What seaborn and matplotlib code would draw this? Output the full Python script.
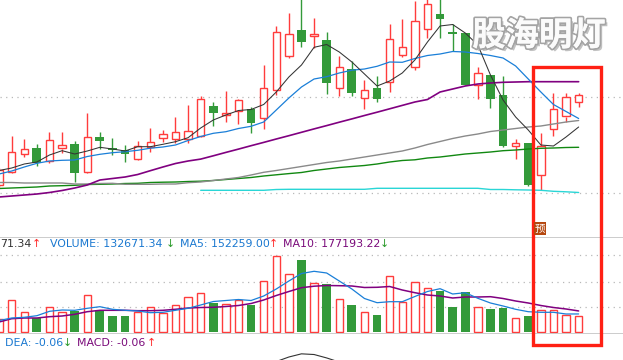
import numpy as np
import matplotlib
matplotlib.use("Agg")
import matplotlib.pyplot as plt
import matplotlib.patheffects as pe
from matplotlib.patches import Rectangle
import seaborn as sns

# ---------------- data ----------------
opens = [10.15, 10.285, 10.465, 10.52, 10.388, 10.515, 10.56, 10.285, 10.628, 10.52,
         10.497, 10.415, 10.53, 10.625, 10.613, 10.608, 10.64, 10.94, 10.85, 10.895,
         10.91, 10.817, 11.097, 11.437, 11.70, 11.637, 11.60, 11.125, 11.307, 11.017,
         11.12, 11.177, 11.447, 11.333, 11.707, 11.86, 11.67, 11.667, 11.148, 11.25,
         11.05, 10.54, 10.573, 10.25, 10.708, 10.835, 10.977]
highs = [10.32, 10.64, 10.607, 10.56, 10.68, 10.68, 10.59, 10.87, 10.678, 10.62,
         10.55, 10.59, 10.72, 10.70, 10.83, 10.95, 11.038, 10.98, 11.09, 11.008,
         10.928, 11.35, 11.74, 11.87, 12.05, 11.82, 11.677, 11.44, 11.387, 11.20,
         11.243, 11.76, 11.81, 11.99, 12.02, 12.04, 11.763, 11.675, 11.328, 11.25,
         11.238, 10.613, 10.573, 10.667, 11.07, 11.07, 11.075]
lows = [10.13, 10.27, 10.427, 10.343, 10.373, 10.47, 10.183, 10.267, 10.51, 10.455,
        10.382, 10.402, 10.48, 10.583, 10.567, 10.567, 10.633, 10.74, 10.78, 10.762,
        10.675, 10.707, 11.053, 11.417, 11.533, 11.517, 11.063, 11.04, 11.043, 10.913,
        10.983, 11.083, 11.43, 11.30, 11.623, 11.623, 11.49, 11.15, 11.015, 10.923,
        10.528, 10.413, 10.143, 10.103, 10.643, 10.783, 10.927]
closes = [10.30, 10.477, 10.507, 10.373, 10.597, 10.547, 10.273, 10.628, 10.593, 10.50,
          10.463, 10.538, 10.578, 10.657, 10.678, 10.688, 11.008, 10.873, 10.867, 11.00,
          10.765, 11.117, 11.677, 11.657, 11.583, 11.66, 11.173, 11.327, 11.073, 11.097,
          11.013, 11.607, 11.527, 11.787, 11.957, 11.813, 11.663, 11.152, 11.268, 11.013,
          10.54, 10.567, 10.153, 10.543, 10.91, 11.025, 11.055]

ma5 = [10.295, 10.32, 10.36, 10.38, 10.45, 10.493, 10.46, 10.49, 10.527, 10.51,
       10.49, 10.533, 10.533, 10.557, 10.583, 10.623, 10.72, 10.80, 10.85, 10.895,
       10.905, 10.955, 11.08, 11.23, 11.35, 11.527, 11.555, 11.48, 11.38, 11.26,
       11.14, 11.19, 11.27, 11.40, 11.58, 11.74, 11.755, 11.67, 11.55, 11.25,
       11.00, 10.83, 10.70, 10.55, 10.54, 10.63, 10.73]
ma10 = [10.26, 10.29, 10.33, 10.367, 10.39, 10.397, 10.40, 10.435, 10.457, 10.473,
        10.483, 10.497, 10.518, 10.53, 10.55, 10.595, 10.635, 10.667, 10.683, 10.715,
        10.737, 10.78, 10.90, 11.02, 11.13, 11.21, 11.233, 11.27, 11.298, 11.31,
        11.337, 11.38, 11.377, 11.415, 11.445, 11.46, 11.485, 11.48, 11.465, 11.445,
        11.42, 11.34, 11.21, 11.08, 10.955, 10.885, 10.815]
ma20 = [10.03, 10.04, 10.05, 10.06, 10.075, 10.095, 10.12, 10.15, 10.20, 10.215,
        10.23, 10.255, 10.293, 10.33, 10.365, 10.39, 10.409, 10.442, 10.476, 10.509,
        10.543, 10.576, 10.61, 10.643, 10.677, 10.711, 10.744, 10.778, 10.811, 10.845,
        10.878, 10.912, 10.946, 10.98, 11.005, 11.08, 11.11, 11.14, 11.16, 11.17,
        11.177, 11.18, 11.183, 11.183, 11.183, 11.183, 11.183]
ma60 = [10.175, 10.175, 10.17, 10.17, 10.17, 10.17, 10.16, 10.16, 10.165, 10.167,
        10.157, 10.157, 10.157, 10.16, 10.16, 10.173, 10.18, 10.195, 10.21, 10.225,
        10.25, 10.277, 10.295, 10.315, 10.335, 10.355, 10.375, 10.39, 10.41, 10.43,
        10.45, 10.47, 10.49, 10.52, 10.555, 10.585, 10.615, 10.64, 10.66, 10.685,
        10.70, 10.715, 10.73, 10.74, 10.76, 10.78, 10.795]
ma120 = [10.115, 10.12, 10.125, 10.13, 10.14, 10.143, 10.147, 10.155, 10.157, 10.16,
         10.165, 10.167, 10.175, 10.178, 10.18, 10.185, 10.188, 10.195, 10.205, 10.215,
         10.225, 10.24, 10.252, 10.264, 10.275, 10.295, 10.31, 10.325, 10.335, 10.345,
         10.36, 10.38, 10.395, 10.402, 10.42, 10.43, 10.445, 10.46, 10.47, 10.48,
         10.493, 10.50, 10.51, 10.517, 10.52, 10.525, 10.527]
nan = np.nan
ma250 = [nan] * 16 + [10.097, 10.097, 10.097, 10.097, 10.097, 10.097, 10.105, 10.107,
                      10.107, 10.107, 10.107, 10.107, 10.107, 10.107, 10.117, 10.117,
                      10.117, 10.117, 10.117, 10.117, 10.117, 10.117, 10.117, 10.105,
                      10.105, 10.102, 10.10, 10.097, 10.087, 10.082, 10.075]

volume = [107900, 268000, 166000, 116200, 207500, 168500, 176800, 307100, 174300, 135300,
          134800, 171000, 207500, 157700, 224100, 290500, 326200, 247300, 233200, 268100,
          229100, 423300, 631600, 485600, 601800, 409200, 402600, 273900, 228300, 168500,
          145300, 467300, 254000, 415000, 365200, 345300, 210000, 332000, 207500, 193400,
          201700, 116200, 135300, 182600, 182600, 141100, 132671.34]
vol_ma5 = [97900, 118700, 124500, 137800, 174300, 185100, 182600, 199200, 212500, 190900,
           182600, 176800, 162700, 166000, 182600, 199200, 226600, 255600, 263900, 272200,
           263900, 301300, 359400, 425800, 488000, 506300, 492200, 425800, 359400, 280500,
           245700, 254000, 254000, 297100, 338600, 361900, 317900, 328700, 282200, 243200,
           218300, 190900, 171000, 166000, 166000, 151900, 152259.00]
vol_ma10 = [85500, 112900, 118700, 118700, 129500, 135300, 149400, 171000, 182600, 182600,
            182600, 179300, 179300, 182600, 190900, 201700, 205800, 207500, 214100, 222400,
            239000, 268100, 305400, 338600, 370200, 382600, 388400, 386800, 384300, 371800,
            373500, 380100, 351100, 328700, 309600, 301300, 284700, 293000, 293000, 295500,
            280500, 259800, 243200, 222400, 205800, 193400, 177193.22]

macd_idx = [21, 22, 23, 24, 25, 26, 27, 28]
macd_dif = [-0.14, -0.109, -0.0825, -0.064, -0.068, -0.088, -0.112, -0.14]

vol_header = [("71.34", "#333333", 0), ("\u2191", "#ff2a2a", 32),
              ("VOLUME: 132671.34", "#1a78d0", 50), ("\u2193", "#2a9a2a", 166),
              ("MA5: 152259.00", "#1a78d0", 180), ("\u2191", "#ff2a2a", 269),
              ("MA10: 177193.22", "#7a0a7a", 283), ("\u2193", "#2a9a2a", 380)]
macd_header = [("DEA: -0.06", "#1a78d0", 5), ("\u2193", "#2a9a2a", 63),
               ("MACD: -0.06", "#7a0a7a", 77), ("\u2191", "#ff2a2a", 147)]
watermark = "股海明灯"
badge = "预"

# ---------------- style ----------------
sns.set_theme(style="white")
plt.rcParams['font.family'] = ['DejaVu Sans', 'Noto Sans CJK SC']

RED = "#ff3c3c"
GREEN = "#339a3a"
W, H = 623, 360

fig = plt.figure(figsize=(W / 100, H / 100), dpi=100)
fig.patch.set_facecolor("white")

def fy(py):
    return 1 - py / H

ax_p = fig.add_axes([0, fy(236.5), 1, 236.5 / H])
ax_v = fig.add_axes([0, fy(334.3), 1, (334.3 - 236.5) / H])
ax_m = fig.add_axes([0, 0, 1, (360 - 334.3) / H])

n = len(closes)
x = np.arange(n)
o = np.array(opens); c = np.array(closes)
hi = np.array(highs); lo = np.array(lows)
up = c >= o
b_lo = np.minimum(o, c); b_hi = np.maximum(o, c)
bh = np.maximum(b_hi - b_lo, 0.012)

XL = (0.0714, 49.52)
for a in (ax_p, ax_v, ax_m):
    a.set_facecolor("white")
    for s in a.spines.values():
        s.set_visible(False)

ax_p.set_ylim(9.635, 12.0)
ax_v.set_ylim(-16600, 795140)
ax_m.set_ylim(-0.10, 0.05)

dot = dict(color="#b8b8b8", lw=0.9, linestyle=(0, (1, 3.5)), zorder=0)
for g in (11.027, 10.067):
    ax_p.axhline(g, **dot)
for g in (641600, 415000, 207500):
    ax_v.axhline(g, **dot)

# candles
ax_p.vlines(x[up], b_hi[up], hi[up], color=RED, lw=1.0, zorder=2)
ax_p.vlines(x[up], lo[up], b_lo[up], color=RED, lw=1.0, zorder=2)
ax_p.vlines(x[~up], lo[~up], hi[~up], color=GREEN, lw=1.0, zorder=2)
ax_p.bar(x[up], bh[up], bottom=b_lo[up], width=0.58, facecolor="white",
         edgecolor=RED, linewidth=1.0, zorder=3)
ax_p.bar(x[~up], bh[~up], bottom=b_lo[~up], width=0.70, color=GREEN,
         linewidth=0, zorder=3)

# price moving averages
for vals, col, lw in [(ma250, "#2ad6d6", 1.0), (ma120, "#118811", 1.0),
                      (ma60, "#8a8a8a", 1.0), (ma20, "#800080", 1.2),
                      (ma10, "#1a7fd8", 0.9), (ma5, "#333333", 0.75)]:
    sns.lineplot(x=x, y=np.array(vals, dtype=float), ax=ax_p, color=col,
                 linewidth=lw, zorder=4, legend=False)

# volume
v = np.array(volume, dtype=float)
ax_v.bar(x[up], v[up], width=0.58, facecolor="white", edgecolor=RED,
         linewidth=1.0, zorder=2)
ax_v.bar(x[~up], v[~up], width=0.70, color=GREEN, linewidth=0, zorder=2)
sns.lineplot(x=x, y=np.array(vol_ma10, dtype=float), ax=ax_v, color="#800080",
             linewidth=1.1, zorder=4, legend=False)
sns.lineplot(x=x, y=np.array(vol_ma5, dtype=float), ax=ax_v, color="#1a7fd8",
             linewidth=0.9, zorder=4, legend=False)
ax_v.axhline(ax_v.get_ylim()[1], color="#c4c4c4", lw=1.2, zorder=5)
ax_v.axhline(ax_v.get_ylim()[0], color="#c4c4c4", lw=1.2, zorder=5)

# macd fragment
sns.lineplot(x=macd_idx, y=macd_dif, ax=ax_m, color="#333333", linewidth=0.8,
             legend=False)

for a in (ax_p, ax_v, ax_m):
    a.set_xlabel(""); a.set_ylabel("")
    a.set_xticks([]); a.set_yticks([])
    a.set_xlim(*XL)

# header texts
for txt, col, px in vol_header:
    fig.text(px / W, fy(244), txt, color=col, fontsize=7.9, va="center", ha="left")
for txt, col, px in macd_header:
    fig.text(px / W, fy(342.7), txt, color=col, fontsize=7.9, va="center", ha="left")

# watermark
fig.text(539 / W, fy(36), watermark, fontsize=24, fontweight="bold",
         family=["Noto Sans CJK SC"], color="#fbfbfb", ha="center", va="center",
         zorder=10,
         path_effects=[pe.SimplePatchShadow(offset=(2, -2), shadow_rgbFace="#a8a8a8", alpha=0.7),
                       pe.withStroke(linewidth=2.6, foreground="#a4a4a4"),
                       pe.Normal()])

# highlight box
rect = Rectangle((533.4 / W, fy(345.3)), (600.6 - 533.4) / W, (345.3 - 66.7) / H,
                 transform=fig.transFigure, fill=False, edgecolor="#ff2014",
                 linewidth=2.4, zorder=20)
fig.add_artist(rect)

fig.text(540 / W, fy(228.5), badge, fontsize=7.5, color="white",
         family=["Noto Sans CJK SC"], ha="center", va="center", zorder=21,
         bbox=dict(boxstyle="square,pad=0.12", facecolor="#b5470f", edgecolor="none"))

fig.savefig("out.png", dpi=100)
